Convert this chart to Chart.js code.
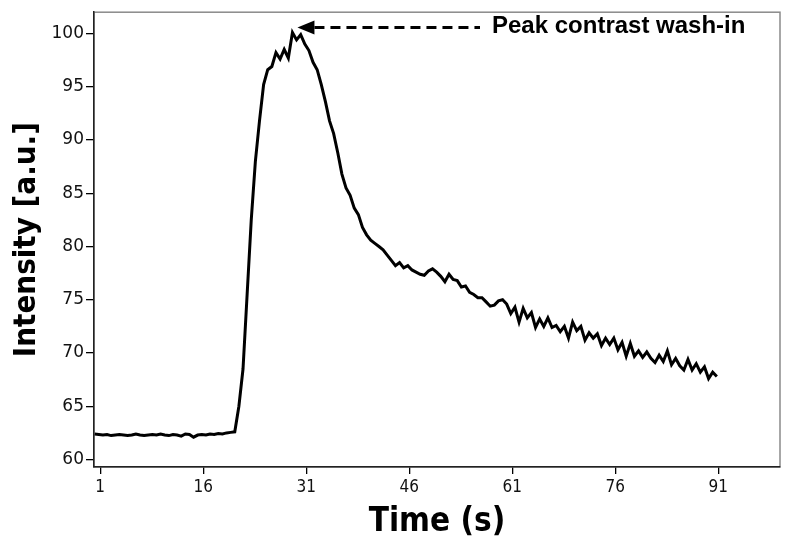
<!DOCTYPE html>
<html>
<head>
<meta charset="utf-8">
<script src="https://cdn.jsdelivr.net/npm/chart.js@4"></script>
<style>
  html, body { margin: 0; padding: 0; background: #fff; }
  #wrap { width: 800px; height: 549px; }
</style>
</head>
<body>
<div id="wrap"><canvas id="myChart" width="800" height="549"></canvas></div>
<script>
// time of each frame (s)
const times = [
  0.2, 0.8, 1.4, 2.0, 2.6, 3.2, 3.8, 4.4, 5.0, 5.6,
  6.2, 6.8, 7.4, 8.0, 8.6, 9.2, 9.8, 10.4, 11.0, 11.6,
  12.2, 12.8, 13.4, 14.0, 14.6, 15.2, 15.8, 16.4, 17.0, 17.6,
  18.2, 18.8, 19.4, 20.0, 20.6, 21.2, 21.8, 22.4, 23.0, 23.6,
  24.2, 24.8, 25.4, 26.0, 26.6, 27.2, 27.8, 28.4, 29.0, 29.6,
  30.2, 30.8, 31.4, 32.0, 32.6, 33.2, 33.8, 34.4, 35.0, 35.6,
  36.2, 36.8, 37.4, 38.0, 38.6, 39.2, 39.8, 40.4, 41.0, 41.6,
  42.2, 42.8, 43.4, 44.0, 44.6, 45.2, 45.8, 46.4, 47.0, 47.6,
  48.2, 48.8, 49.4, 50.0, 50.6, 51.2, 51.8, 52.4, 53.0, 53.6,
  54.2, 54.8, 55.4, 56.0, 56.6, 57.2, 57.8, 58.4, 59.0, 59.6,
  60.2, 60.8, 61.4, 62.0, 62.6, 63.2, 63.8, 64.4, 65.0, 65.6,
  66.2, 66.8, 67.4, 68.0, 68.6, 69.2, 69.8, 70.4, 71.0, 71.6,
  72.2, 72.8, 73.4, 74.0, 74.6, 75.2, 75.8, 76.4, 77.0, 77.6,
  78.2, 78.8, 79.4, 80.0, 80.6, 81.2, 81.8, 82.4, 83.0, 83.6,
  84.2, 84.8, 85.4, 86.0, 86.6, 87.2, 87.8, 88.4, 89.0, 89.6,
  90.2, 90.8
];

// signal intensity [a.u.]
const intensity = [
  62.4, 62.35, 62.3, 62.35, 62.25, 62.3, 62.35, 62.3, 62.25, 62.3,
  62.4, 62.3, 62.25, 62.3, 62.35, 62.3, 62.4, 62.3, 62.25, 62.35,
  62.3, 62.2, 62.4, 62.35, 62.1, 62.3, 62.35, 62.3, 62.4, 62.35,
  62.45, 62.4, 62.5, 62.55, 62.6, 65.0, 68.5, 75.5, 82.5, 88.0,
  91.8, 95.2, 96.6, 96.9, 98.2, 97.6, 98.5, 97.7, 100.1, 99.4,
  99.9, 99.0, 98.4, 97.3, 96.6, 95.2, 93.6, 91.8, 90.6, 88.8,
  86.8, 85.5, 84.8, 83.6, 83.0, 81.8, 81.1, 80.6, 80.3, 80.0,
  79.7, 79.2, 78.7, 78.2, 78.5, 78.0, 78.2, 77.8, 77.6, 77.4,
  77.3, 77.7, 77.9, 77.6, 77.2, 76.7, 77.4, 76.9, 76.8, 76.2,
  76.3, 75.7, 75.5, 75.2, 75.2, 74.8, 74.4, 74.5, 74.9, 75.0,
  74.6, 73.7, 74.3, 72.9, 74.2, 73.3, 73.8, 72.4, 73.2, 72.5,
  73.3, 72.4, 72.6, 72.0, 72.5, 71.4, 72.9, 72.1, 72.5, 71.2,
  71.9, 71.4, 71.8, 70.7, 71.4, 70.8, 71.4, 70.3, 71.0, 69.7,
  70.9, 69.7, 70.2, 69.6, 70.1, 69.5, 69.1, 69.8, 69.2, 70.2,
  68.9, 69.5, 68.8, 68.4, 69.4, 68.4, 69.0, 68.2, 68.7, 67.6,
  68.2, 67.8
];

const xTicks = [1, 16, 31, 46, 61, 76, 91];
const yTicks = [60, 65, 70, 75, 80, 85, 90, 95, 100];

const peakLabel = 'Peak contrast wash-in';

var points = [];
for (var i = 0; i < times.length; i++) {
    points.push({ x: times[i], y: intensity[i] });
}

// frame round the plot + arrow annotation
const extras = {
    id: 'extras',
    beforeDraw(chart) {
        const a = chart.chartArea;
        const ctx = chart.ctx;
        ctx.save();
        ctx.strokeStyle = '#8a8a8a';
        ctx.lineWidth = 1.5;
        ctx.strokeRect(a.left, a.top, a.right - a.left, a.bottom - a.top);
        ctx.restore();
    },
    afterDatasetsDraw(chart) {
        const ctx = chart.ctx;
        const xs = chart.scales.x;
        const ys = chart.scales.y;
        // find peak
        let k = 0;
        for (let i = 1; i < intensity.length; i++) {
            if (intensity[i] > intensity[k]) k = i;
        }
        const tipX = xs.getPixelForValue(times[k]) + 5;
        const tipY = ys.getPixelForValue(intensity[k]) - 5;
        ctx.save();
        ctx.fillStyle = '#000';
        ctx.beginPath();
        ctx.moveTo(tipX, tipY);
        ctx.lineTo(tipX + 17, tipY - 7);
        ctx.lineTo(tipX + 17, tipY + 7);
        ctx.closePath();
        ctx.fill();
        ctx.strokeStyle = '#000';
        ctx.lineWidth = 3;
        ctx.setLineDash([10, 6]);
        ctx.beginPath();
        ctx.moveTo(tipX + 17, tipY);
        ctx.lineTo(480, tipY);
        ctx.stroke();
        ctx.setLineDash([]);
        ctx.font = 'bold 24px "Liberation Sans", Arial, sans-serif';
        ctx.textBaseline = 'middle';
        ctx.textAlign = 'left';
        ctx.fillText(peakLabel, 492, tipY - 1);
        ctx.restore();
    }
};

var ctx = document.getElementById('myChart').getContext('2d');
var chart = new Chart(ctx, {
    type: 'line',
    data: {
        datasets: [{
            label: 'Intensity',
            data: points,
            borderColor: '#000',
            borderWidth: 3,
            pointRadius: 0,
            tension: 0,
            fill: false
        }]
    },
    options: {
        responsive: false,
        animation: false,
        layout: { padding: { top: 12, right: 20, left: 0, bottom: 0 } },
        plugins: {
            legend: { display: false },
            tooltip: { enabled: false }
        },
        scales: {
            x: {
                type: 'linear',
                min: 0.1,
                max: 100,
                afterBuildTicks: function (axis) {
                    axis.ticks = xTicks.map(v => ({ value: v }));
                },
                afterFit: function (axis) { axis.height = 82; },
                grid: { drawOnChartArea: false, tickLength: 7, color: '#000', lineWidth: 1.3 },
                border: { color: '#222', width: 1.5 },
                ticks: {
                    color: '#111',
                    padding: 3,
                    maxRotation: 0,
                    font: { family: '"DejaVu Sans Condensed", "DejaVu Sans", sans-serif', size: 17 }
                },
                title: {
                    display: true,
                    text: 'Time (s)',
                    color: '#000',
                    padding: { top: 6, bottom: 7 },
                    font: { family: '"DejaVu Sans Condensed", "DejaVu Sans", sans-serif', size: 33, weight: 'bold' }
                }
            },
            y: {
                min: 59.3,
                max: 102,
                afterBuildTicks: function (axis) {
                    axis.ticks = yTicks.map(v => ({ value: v }));
                },
                afterFit: function (axis) { axis.width = 94; },
                grid: { drawOnChartArea: false, tickLength: 8, color: '#000', lineWidth: 1.3 },
                border: { color: '#222', width: 1.5 },
                ticks: {
                    color: '#111',
                    padding: 2,
                    font: { family: '"DejaVu Sans", sans-serif', size: 17 }
                },
                title: {
                    display: true,
                    text: 'Intensity [a.u.]',
                    color: '#000',
                    padding: { top: 8, bottom: 4 },
                    font: { family: '"DejaVu Sans Condensed", "DejaVu Sans", sans-serif', size: 31, weight: 'bold' }
                }
            }
        }
    },
    plugins: [extras]
});
</script>
</body>
</html>
